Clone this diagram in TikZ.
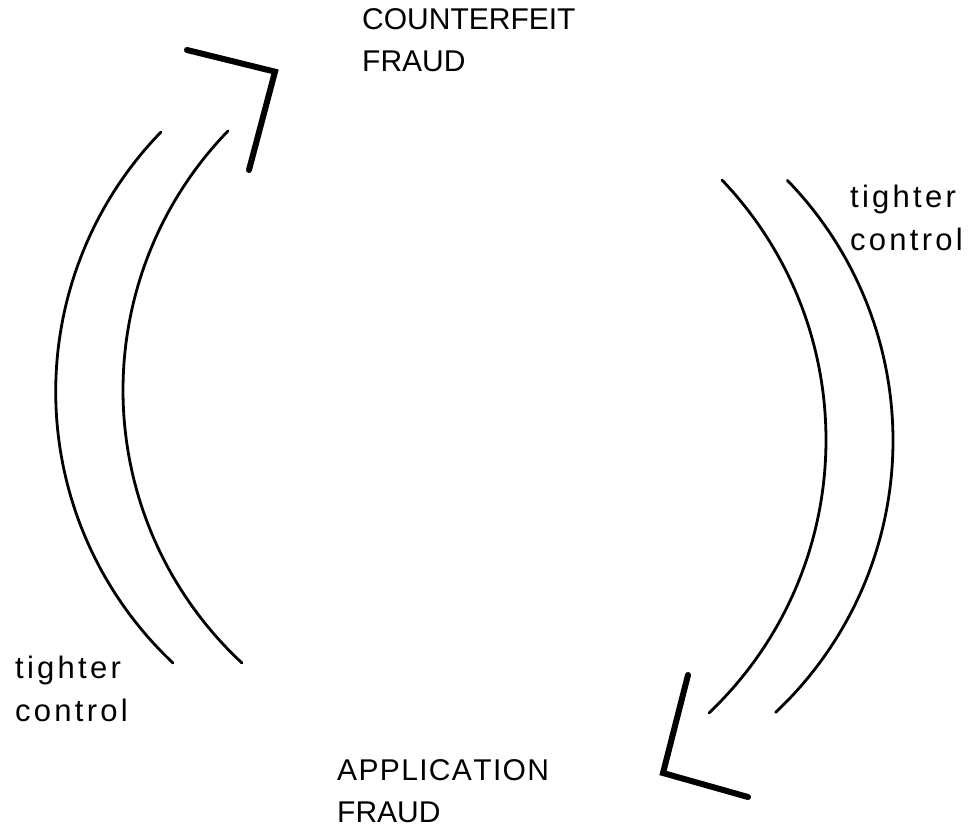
\documentclass[tikz,border=0pt]{standalone}
\usepackage{fontspec}
\setmainfont{Liberation Sans}
\newfontfamily\spacedfont[LetterSpace=10.5]{Liberation Sans}
\newfontfamily\capsspaced[LetterSpace=4.5,Kerning=Off]{Liberation Sans}
\begin{document}
\begin{tikzpicture}[x=1pt,y=1pt,
  thinarc/.style={line width=2.8pt,line cap=round},
  headline/.style={line width=6pt,line cap=round,line join=miter},
  caps/.style={font=\fontsize{30}{36}\selectfont,inner sep=0pt,anchor=base west},
  lower/.style={font=\fontsize{31}{36}\spacedfont,inner sep=0pt,anchor=base west}]
\useasboundingbox (0,0) rectangle (973,833);
% text labels
\node[caps] (cf1) at (362,803) {COUNTERFEIT};
\node[caps] (cf2) at (362,761) {FRAUD};
\node[caps,font=\fontsize{30}{36}\capsspaced] (af1) at (337,53) {APPLICATION};
\node[caps] (af2) at (337,11) {FRAUD};
\node[lower] (rt1) at (850,625) {tighter};
\node[lower] (rt2) at (850,582) {control};
\node[lower] (lt1) at (15,155) {tighter};
\node[lower] (lt2) at (15,112) {control};
% left arcs (upward flow)
\coordinate (lo) at (428.4,441.4);
\coordinate (li) at (495.4,442.85);
\draw[thinarc] ([shift={(135.85:372.7)}]lo) arc[start angle=135.85,end angle=226.74,radius=372.7];
\draw[thinarc] ([shift={(135.9:372.4)}]li) arc[start angle=135.9,end angle=227.1,radius=372.4];
% right arcs (downward flow)
\coordinate (ri) at (449,393);
\coordinate (ro) at (519.7,392.4);
\draw[thinarc] ([shift={(43.6:377)}]ri) arc[start angle=43.6,end angle=-46.4,radius=377];
\draw[thinarc] ([shift={(44.2:373.3)}]ro) arc[start angle=44.2,end angle=-46.7,radius=373.3];
% arrowheads
\coordinate (ta) at (187,783);
\coordinate (tb) at (275,761.3);
\coordinate (tc) at (249,663);
\draw[headline] (ta) -- (tb) -- (tc);
\coordinate (ba) at (688,158);
\coordinate (bb) at (663,60);
\coordinate (bc) at (748,36);
\draw[headline] (ba) -- (bb) -- (bc);
\end{tikzpicture}
\end{document}
